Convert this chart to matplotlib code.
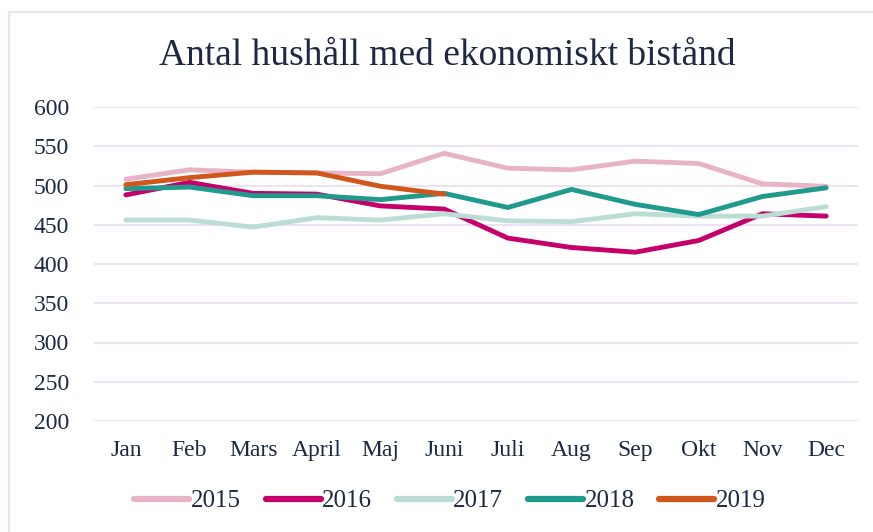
import numpy as np
import matplotlib
matplotlib.use("Agg")
import matplotlib.pyplot as plt
from matplotlib.patches import Rectangle

months = ["Jan", "Feb", "Mars", "April", "Maj", "Juni",
          "Juli", "Aug", "Sep", "Okt", "Nov", "Dec"]

y2015 = [508, 520, 517, 516, 515, 541, 522, 520, 531, 528, 502, 499]
y2016 = [488, 504, 490, 489, 474, 470, 433, 421, 415, 430, 464, 461]
y2017 = [456, 456, 447, 459, 456, 464, 455, 454, 464, 461, 461, 473]
y2018 = [496, 498, 487, 487, 482, 490, 472, 495, 476, 463, 486, 497]
y2019 = [501, 510, 517, 516, 499, 489]

series = [
    ("2015", y2015, "#E8B3C6"),
    ("2016", y2016, "#C5006B"),
    ("2017", y2017, "#BCDDD6"),
    ("2018", y2018, "#1F9A8C"),
    ("2019", y2019, "#D0561C"),
]

text_color = "#1E2842"
grid_color = "#EADCF2"

plt.rcParams["font.family"] = ["Liberation Serif", "DejaVu Serif"]

fig = plt.figure(figsize=(8.73, 5.32), dpi=100)
# frame around the chart area, running off the right and bottom edges
fig.patches.append(Rectangle((9 / 873, -0.1), 1.2, 1 - 12 / 532 + 0.1,
                             transform=fig.transFigure, fill=False,
                             edgecolor=grid_color, linewidth=1.2))

ax = fig.add_axes([94 / 873, 1 - 421 / 532, 764 / 873, 314 / 532])
x = np.arange(len(months))
for label, vals, color in series:
    ax.plot(x[:len(vals)], vals, color=color, lw=3.5, label=label,
            solid_capstyle="round", solid_joinstyle="round")

ax.set_xlim(-0.5, 11.5)
ax.set_ylim(200, 600)
ax.set_yticks(np.arange(200, 601, 50))
ax.set_xticks(x)
ax.set_xticklabels(months)
ax.grid(axis="y", color=grid_color, lw=1.2)
ax.set_axisbelow(True)
for s in ax.spines.values():
    s.set_visible(False)
ax.tick_params(length=0, labelsize=17, colors=text_color)
ax.tick_params(axis="y", pad=18)
ax.tick_params(axis="x", pad=14)

fig.text(447 / 873, 1 - 65 / 532, "Antal hushåll med ekonomiskt bistånd",
         ha="center", va="baseline", fontsize=27, color=text_color)

leg = fig.legend(loc="center", bbox_to_anchor=(450 / 873, 1 - 501 / 532),
                 ncol=5, frameon=False, fontsize=18, handlelength=2.2,
                 handletextpad=0.05, columnspacing=1.0)
for t in leg.get_texts():
    t.set_color(text_color)
for h in leg.get_lines():
    h.set_linewidth(4.5)

fig.savefig("out.png", dpi=100)
